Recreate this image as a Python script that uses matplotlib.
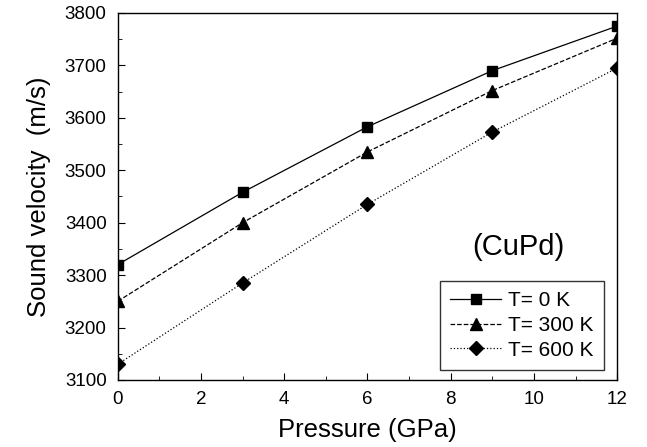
#!/usr/bin/env python3
import matplotlib

matplotlib.use("Agg")
import matplotlib.pyplot as plt
from matplotlib.ticker import MultipleLocator

pressure = [0, 3, 6, 9, 12]
v_0k = [3320, 3458, 3583, 3690, 3775]
v_300k = [3250, 3400, 3535, 3652, 3752]
v_600k = [3130, 3285, 3435, 3573, 3695]
labels = ["T= 0 K", "T= 300 K", "T= 600 K"]


def main():
    plt.rcParams["font.family"] = ["Liberation Sans", "DejaVu Sans"]
    fig = plt.figure(figsize=(6.47, 4.47), dpi=100)
    ax = fig.add_axes([0.182, 0.150, 0.772, 0.821])

    ax.plot(pressure, v_0k, "k-", marker="s", ms=7, lw=0.9, label=labels[0])
    ax.plot(pressure, v_300k, "k--", marker="^", ms=8, lw=0.9, label=labels[1])
    ax.plot(pressure, v_600k, "k:", marker="D", ms=7, lw=0.9, label=labels[2])

    ax.set_xlim(0, 12)
    ax.set_ylim(3100, 3800)
    ax.xaxis.set_major_locator(MultipleLocator(2))
    ax.xaxis.set_minor_locator(MultipleLocator(1))
    ax.yaxis.set_major_locator(MultipleLocator(100))
    ax.yaxis.set_minor_locator(MultipleLocator(50))
    ax.tick_params(which="both", direction="in", labelsize=13.5, colors="k")
    ax.tick_params(which="major", length=5, pad=8)
    ax.tick_params(which="minor", length=3)
    for s in ax.spines.values():
        s.set_linewidth(1.0)

    ax.set_xlabel("Pressure (GPa)", fontsize=18.5, labelpad=7)
    ax.set_ylabel("Sound velocity  (m/s)", fontsize=18.5, labelpad=10)
    ax.text(8.51, 3354, "(CuPd)", fontsize=21, va="center")

    leg = ax.legend(loc="lower right", bbox_to_anchor=(0.974, 0.027),
                    fontsize=15, frameon=True, fancybox=False,
                    edgecolor="k", handlelength=2.45, handletextpad=0.35,
                    borderpad=0.5, labelspacing=0.27, borderaxespad=0)
    leg.get_frame().set_linewidth(1.0)

    fig.savefig("out.png", dpi=100)


if __name__ == "__main__":
    main()
